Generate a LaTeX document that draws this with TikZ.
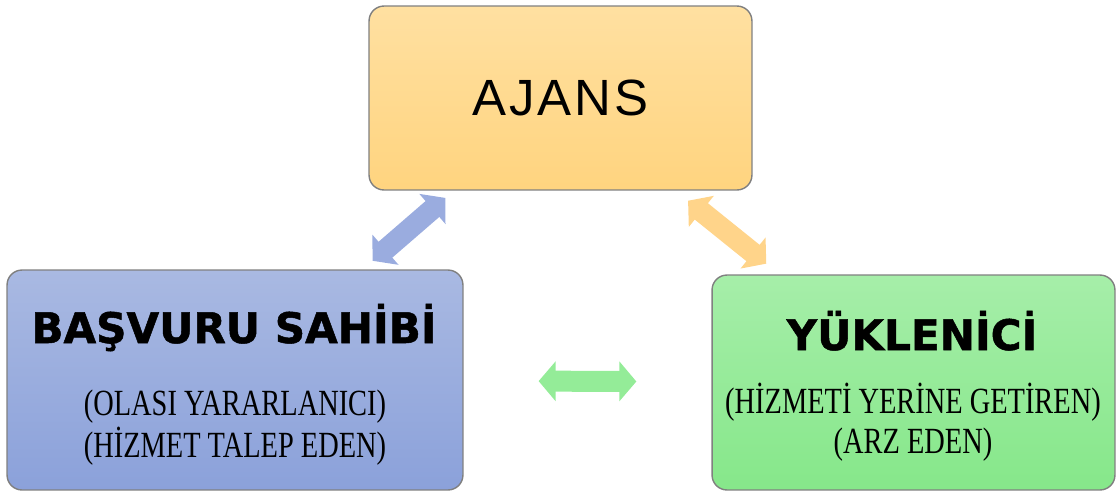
\documentclass[tikz,border=0pt]{standalone}
\usepackage{fontspec}
\setmainfont{Liberation Serif}
\setsansfont{Liberation Sans}
\newfontfamily\heavyfont{DejaVu Sans}[BoldFeatures={FakeBold=1.2}]
\newfontfamily\subfont{Liberation Serif}[FakeStretch=0.77]
\usepackage{tikz}
\usetikzlibrary{arrows.meta}

\definecolor{ajansTop}{HTML}{FFE0A1}
\definecolor{ajansBot}{HTML}{FFD47F}
\definecolor{basTop}{HTML}{A9B9E2}
\definecolor{basBot}{HTML}{8BA1DA}
\definecolor{yukTop}{HTML}{A6EEA9}
\definecolor{yukBot}{HTML}{86E78A}
\definecolor{arrBlue}{HTML}{9AACDF}
\definecolor{arrOrange}{HTML}{FFD48A}
\definecolor{arrGreen}{HTML}{94EC98}

\begin{document}
\begin{tikzpicture}[x=0.02cm, y=-0.02cm]
\tikzstyle{box}=[draw=black!50, line width=0.8pt, rounded corners=0.3cm, inner sep=0pt]
\tikzstyle{ttl}=[anchor=base, inner sep=0pt, font=\heavyfont\bfseries\fontsize{24}{27}\selectfont]
\tikzstyle{sub}=[anchor=base, inner sep=0pt, font=\subfont\fontsize{21}{24}\selectfont]
\tikzstyle{dbl}=[line width=0.42cm, {Triangle[length=0.34cm,width=0.78cm]}-{Triangle[length=0.34cm,width=0.78cm]}]
\useasboundingbox (0,0) rectangle (1116,491);
% boxes
\node[box, top color=ajansTop, bottom color=ajansBot, minimum width=7.66cm, minimum height=3.68cm,
      font=\sffamily\addfontfeature{LetterSpace=6}\fontsize{29}{32}\selectfont] (ajans) at (560.5,98) {AJANS};
\node[box, top color=basTop, bottom color=basBot, minimum width=9.12cm, minimum height=4.4cm] (basvuru) at (235,380) {};
\node[box, top color=yukTop, bottom color=yukBot, minimum width=8.06cm, minimum height=4.3cm] (yuklenici) at (913.5,382.5) {};
% texts
\node[ttl] (basvuruT) at (234,343) {BAŞVURU SAHİBİ};
\node[sub] (basvuruA) at (235,415) {(OLASI YARARLANICI)};
\node[sub] (basvuruB) at (235,457) {(HİZMET TALEP EDEN)};
\node[ttl] (yukleniciT) at (912,350) {YÜKLENİCİ};
\node[sub] (yukleniciA) at (913,413) {(HİZMETİ YERİNE GETİREN)};
\node[sub] (yukleniciB) at (913,453) {(ARZ EDEN)};
% arrows
\draw[dbl, arrBlue, shorten <=0.26cm, shorten >=0.22cm] (basvuru) -- (ajans);
\draw[dbl, arrOrange, shorten <=0.32cm, shorten >=0.34cm] (ajans) -- (yuklenici);
\draw[dbl, arrGreen, shorten <=1.5cm, shorten >=1.5cm] (basvuru) -- (yuklenici);
\end{tikzpicture}
\end{document}
